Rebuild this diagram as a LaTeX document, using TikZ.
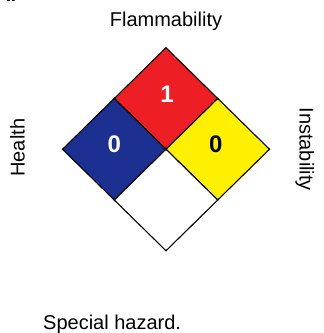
\documentclass[tikz,border=0pt]{standalone}
\usepackage{fontspec}
\setmainfont{Liberation Sans}
\usepackage{xcolor}
\usepackage{tikz}
\usetikzlibrary{shapes.geometric, positioning}
\definecolor{nfpared}{RGB}{237,30,36}
\definecolor{nfpablue}{RGB}{28,48,145}
\definecolor{nfpayellow}{RGB}{255,240,0}

\begin{document}
\begin{tikzpicture}[
    x=1pt, y=1pt,
    quad/.style={diamond, draw=black, line width=1.1pt, inner sep=0pt, outer sep=0pt, minimum width=103.5pt, minimum height=101.5pt},
    num/.style={font=\fontsize{24}{28}\selectfont\bfseries, inner sep=0pt},
    lbl/.style={font=\fontsize{20}{24}\selectfont, inner sep=0pt},
]
\useasboundingbox (0,0) rectangle (324,333);

% the four fields of the diamond
\node[quad, fill=nfpared] (flam) at (166,234.5) {};
\node[quad, fill=nfpablue, anchor=north east] (health) at (flam.south west) {};
\node[quad, fill=nfpayellow, anchor=north west] (instab) at (flam.south east) {};
\node[quad, fill=white, anchor=north] (special) at (flam.south) {};

% ratings
\node[num, white] (flamnum) at ([xshift=1pt, yshift=4pt]flam.center) {1};
\node[num, white] (healthnum) at ([yshift=5pt]health.center) {0};
\node[num, black] (instabnum) at ([xshift=-2pt, yshift=5pt]instab.center) {0};

% labels
\node[lbl, anchor=base] (flamlbl) at ([yshift=21pt]flam.north) {Flammability};
\node[lbl, anchor=base, rotate=90] (healthlbl) at ([xshift=-38pt, yshift=1.5pt]health.west) {Health};
\node[lbl, anchor=base, rotate=-90] (instablbl) at ([xshift=30pt]instab.east) {Instability};
\node[lbl, anchor=base west] (speclbl) at (43,3) {Special hazard.};
\node[lbl, font=\fontsize{20}{24}\selectfont\bfseries, anchor=base west] (panel) at (-4,331) {A.};

\end{tikzpicture}
\end{document}
